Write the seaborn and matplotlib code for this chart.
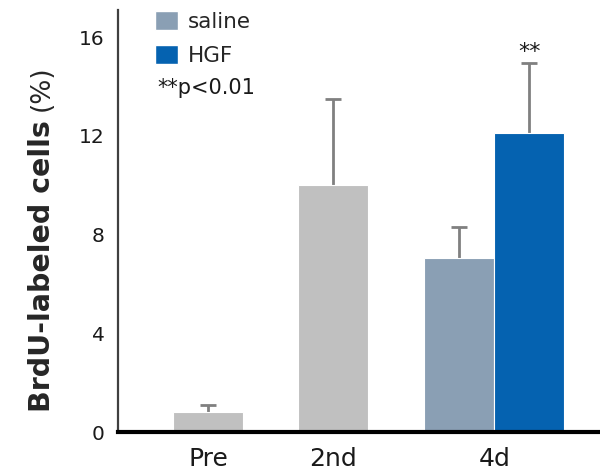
import numpy as np
import pandas as pd
import matplotlib
matplotlib.use("Agg")
import matplotlib.pyplot as plt
from matplotlib.patches import Patch
import seaborn as sns

# values
timepoints = ['Pre', '2nd', '4d', '4d']
groups = ['baseline', 'baseline', 'saline', 'HGF']
means = [0.8, 10.0, 7.05, 12.1]
sd = [0.3, 3.5, 1.25, 2.85]
tick_labels = ['Pre', '2nd', '4d']

# layout (bar centres on a native x scale)
bar_pos = [0, 1, 2.01, 2.57]
tick_pos = [0, 1, 2.29]

palette = {'baseline': '#c0c0c0', 'saline': '#8a9fb4', 'HGF': '#0562b0'}

df = pd.DataFrame({'time': timepoints, 'group': groups, 'mean': means,
                   'sd': sd, 'pos': bar_pos})

sns.set_style('white')
plt.rcParams['font.family'] = ['DejaVu Sans']

fig = plt.figure(figsize=(6, 4.72), dpi=100)
ax = fig.add_axes([118 / 600, 40 / 472, 1 - 118 / 600, 422 / 472])

sns.barplot(data=df, x='pos', y='mean', hue='group', palette=palette,
            native_scale=True, width=1.0, errorbar=None, legend=False,
            saturation=1, edgecolor='white', linewidth=0.8, ax=ax)

# error bars drawn behind the bars so only the upper half shows
ax.errorbar(df['pos'], df['mean'], yerr=df['sd'], fmt='none',
            ecolor='#808080', elinewidth=2, capsize=6, capthick=2,
            zorder=0.9)

ax.text(2.57, 15.0, '**', ha='center', va='bottom', fontsize=16,
        color='#1a1a1a')

ax.set_xlim(-0.72, 3.136)
ax.set_ylim(0, 17.1)
ax.set_yticks([0, 4, 8, 12, 16])
ax.set_xticks(tick_pos)
ax.set_xticklabels(tick_labels)
ax.tick_params(axis='x', length=0, labelsize=18, pad=11, colors='#1a1a1a')
ax.tick_params(axis='y', direction='in', length=7.5, width=1.5,
               color='#404040', labelsize=14.5, pad=9.5, labelcolor='#1a1a1a')
ax.set_xlabel('')
ax.set_ylabel('')

for side in ['top', 'right']:
    ax.spines[side].set_visible(False)
ax.spines['left'].set_color('#404040')
ax.spines['left'].set_linewidth(1.6)
ax.spines['bottom'].set_color('black')
ax.spines['bottom'].set_linewidth(3)

# legend with square patches
handles = [Patch(facecolor=palette['saline'], label='saline'),
           Patch(facecolor=palette['HGF'], label='HGF')]
fig.legend(handles=handles, loc='upper left',
           bbox_to_anchor=(155 / 600, 1 - 11 / 472), frameon=False,
           fontsize=15.5, handlelength=1.07, handleheight=1.0,
           handletextpad=0.45, labelspacing=0.6, borderpad=0,
           borderaxespad=0)
fig.text(157 / 600, 1 - 88 / 472, '**p<0.01', fontsize=15, va='center',
         color='#1a1a1a')

# y label: bold part + normal "(%)"
t1 = fig.text(42 / 600, 1 - 412 / 472, 'BrdU-labeled cells', rotation=90,
              rotation_mode='anchor', ha='left', va='center',
              fontsize=20.5, fontweight='bold')
fig.canvas.draw()
bb = t1.get_window_extent().transformed(fig.transFigure.inverted())
fig.text(42 / 600, bb.y1 + 9 / 472, '(%)', rotation=90,
         rotation_mode='anchor', ha='left', va='center', fontsize=19)

fig.savefig('out.png', dpi=100)
